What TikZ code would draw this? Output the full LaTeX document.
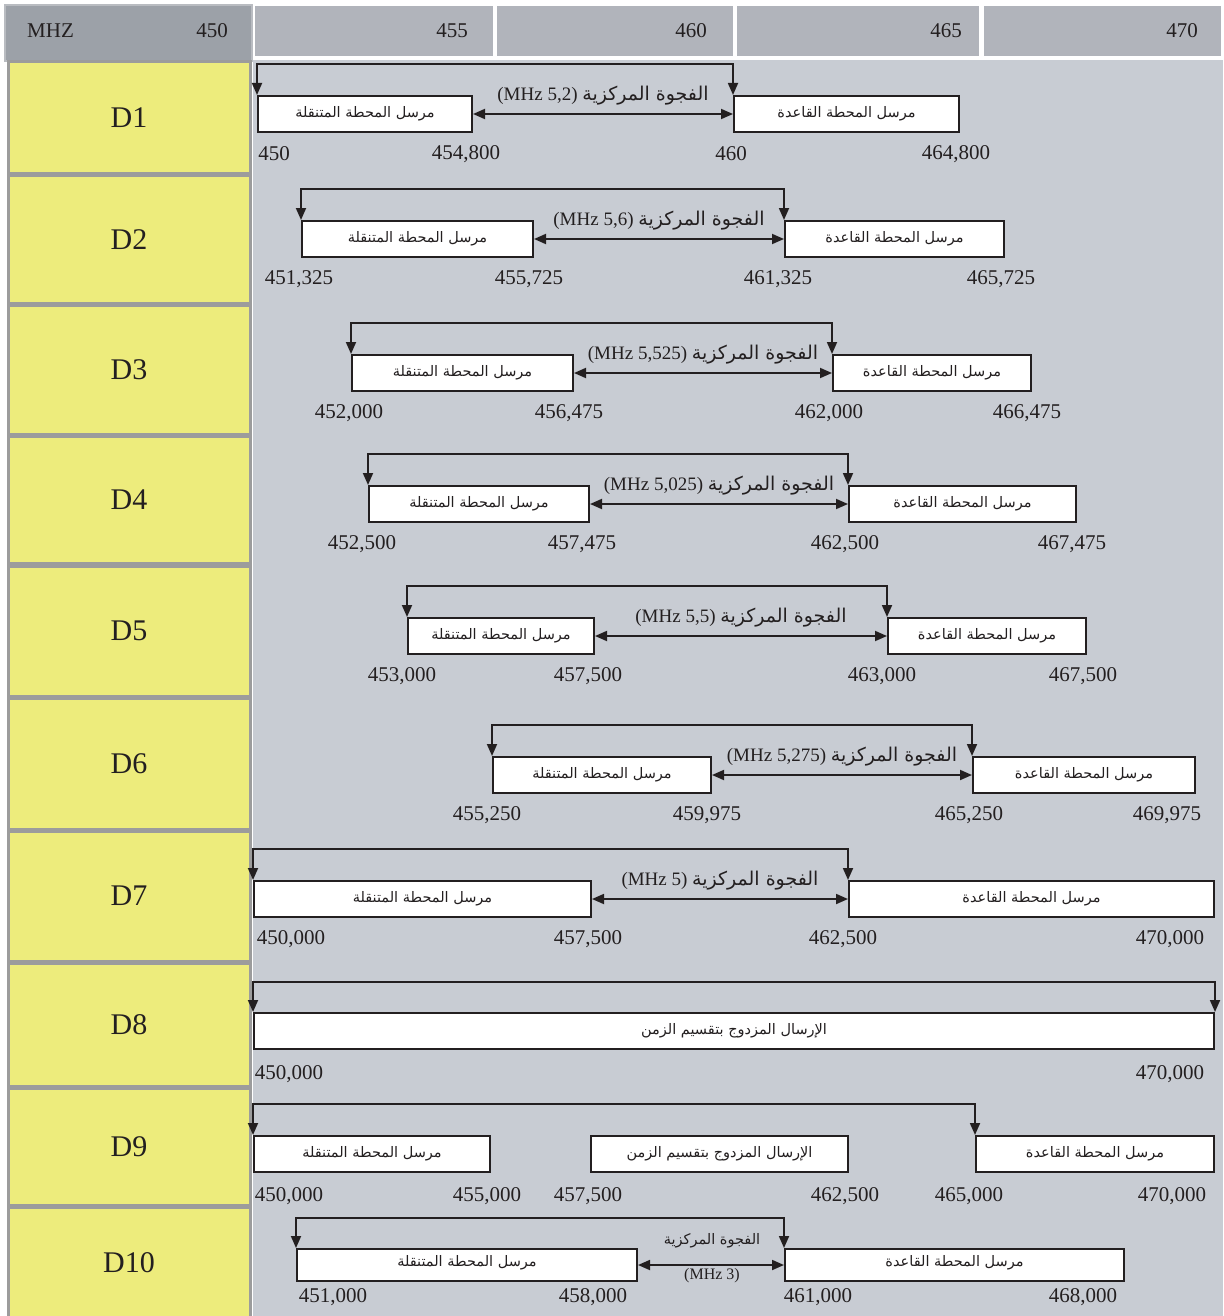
\documentclass[tikz,border=0pt]{standalone}
\usepackage{fontspec}
\setmainfont{Liberation Serif}
\newfontfamily\arabicfont[Script=Arabic]{DejaVu Sans}
\TeXXeTstate=1
\usetikzlibrary{arrows.meta}

\definecolor{ink}{HTML}{231F20}
\definecolor{yel}{HTML}{EDEC7C}
\definecolor{ygray}{HTML}{9C9C9C}
\definecolor{hdark}{HTML}{9CA1A8}
\definecolor{hedge}{HTML}{B9BCC1}
\definecolor{hlight}{HTML}{B1B4BB}
\definecolor{panel}{HTML}{C8CCD3}

\newcommand\mobtext{\beginR مرسل المحطة المتنقلة\endR}
\newcommand\basetext{\beginR مرسل المحطة القاعدة\endR}
\newcommand\tddtext{\beginR الإرسال المزدوج بتقسيم الزمن\endR}
\newcommand\gaptext[1]{(MHz #1) {\arabicfont\beginR الفجوة المركزية\endR}}

\begin{document}
\begin{tikzpicture}[x=1pt,y=-1pt,
  txbox/.style={draw=ink,line width=2pt,fill=white,anchor=north west,
    minimum height=36pt,inner sep=0pt,text=ink,
    font=\arabicfont\fontsize{14.5}{16}\selectfont},
  link/.style={draw=ink,line width=1.8pt,
    {Triangle[length=12pt,width=10pt]}-{Triangle[length=12pt,width=10pt]}},
  freq/.style={text=ink,inner sep=0pt,font=\fontsize{21}{23}\selectfont},
  gaplbl/.style={text=ink,inner sep=0pt,yshift=18pt,font=\fontsize{19}{21}\selectfont},
  dlbl/.style={text=ink,font=\fontsize{30}{32}\selectfont},
  ycell/.style={fill=yel,draw=ygray,line width=3pt}]
  \useasboundingbox (0,0) rectangle (1223,1316);

  % header strip
  \draw[fill=hdark,draw=hedge,line width=2pt] (5,5) rectangle (252,61);
  \foreach \xl/\xr in {255/493,497/733,737/979,984/1221}
    \fill[hlight] (\xl,6) rectangle (\xr,56);
  \node[freq,anchor=west] (mhz) at (27,31) {MHZ};
  \foreach \f/\x in {450/228,455/468,460/707,465/962,470/1198}
    \node[freq,anchor=east] (h\f) at (\x,31) {\f};

  % band column and chart area
  \fill[panel] (253,60) rectangle (1223,1316);
  \foreach \n/\yt/\ybot in {1/62/174,2/176/303,3/305/434,4/436/563,5/566/696,
      6/698/829,7/831/961,8/963/1086,9/1088/1205,10/1207/1318}{
    \draw[ycell] (8,\yt) rectangle (250,\ybot);
    \node[dlbl] (d\n) at (129,{(\yt+\ybot)/2}) {D\n};
  }

  % FDD bands D1--D7
  \foreach \n/\yb/\ml/\mr/\bl/\br/\gap/\na/\xa/\nb/\xb/\nc/\xc/\nd/\xd in {
      1/95/257/471/733/958/{5,2}/450/274/{454,800}/466/460/731/{464,800}/956,
      2/220/301/532/784/1003/{5,6}/{451,325}/299/{455,725}/529/{461,325}/778/{465,725}/1001,
      3/354/351/572/832/1030/{5,525}/{452,000}/349/{456,475}/569/{462,000}/829/{466,475}/1027,
      4/485/368/588/848/1075/{5,025}/{452,500}/362/{457,475}/582/{462,500}/845/{467,475}/1072,
      5/617/407/593/887/1085/{5,5}/{453,000}/402/{457,500}/588/{463,000}/882/{467,500}/1083,
      6/756/492/710/972/1194/{5,275}/{455,250}/487/{459,975}/707/{465,250}/969/{469,975}/1167,
      7/880/253/590/848/1213/5/{450,000}/291/{457,500}/588/{462,500}/843/{470,000}/1170}{
    \node[txbox,minimum width={(\mr-\ml)*1pt}] (m\n) at (\ml,\yb) {\mobtext};
    \node[txbox,minimum width={(\br-\bl)*1pt}] (b\n) at (\bl,\yb) {\basetext};
    \draw[link] (m\n.north west) -- ++(0,-31) -| (b\n.north west);
    \draw[link] (m\n.east) -- node[gaplbl] (g\n) {\gaptext{\gap}} (b\n.west);
    \node[freq] (fa\n) at (\xa,\yb+59) {\na};
    \node[freq] (fb\n) at (\xb,\yb+59) {\nb};
    \node[freq] (fc\n) at (\xc,\yb+59) {\nc};
    \node[freq] (fd\n) at (\xd,\yb+59) {\nd};
  }

  % TDD band D8
  \node[txbox,minimum width=960pt] (t8) at (253,1012) {\tddtext};
  \draw[link] (t8.north west) -- ++(0,-30) -| (t8.north east);
  \node[freq] (fa8) at (289,1074) {450,000};
  \node[freq] (fd8) at (1170,1074) {470,000};

  % mixed band D9
  \node[txbox,minimum width=236pt] (m9) at (253,1135) {\mobtext};
  \node[txbox,minimum width=257pt] (t9) at (590,1135) {\tddtext};
  \node[txbox,minimum width=238pt] (b9) at (975,1135) {\basetext};
  \draw[link] (m9.north west) -- ++(0,-31) -| (b9.north west);
  \foreach \v/\x [count=\i] in {{450,000}/289,{455,000}/487,{457,500}/588,
      {462,500}/845,{465,000}/969,{470,000}/1172}
    \node[freq] (f9\i) at (\x,1196) {\v};

  % FDD band D10
  \node[txbox,minimum width=340pt,minimum height=32pt,text depth=8pt] (m10) at (296,1248) {\mobtext};
  \node[txbox,minimum width=339pt,minimum height=32pt,text depth=8pt] (b10) at (784,1248) {\basetext};
  \draw[link] (m10.north west) -- ++(0,-30) -| (b10.north west);
  \draw[link] (m10.east) -- (b10.west);
  \node[text=ink,font=\arabicfont\fontsize{14.5}{16}\selectfont] (g10) at (712,1241)
    {\beginR الفجوة المركزية\endR};
  \node[text=ink,font=\fontsize{16}{18}\selectfont] (u10) at (712,1276) {(MHz 3)};
  \foreach \v/\x [count=\i] in {{451,000}/333,{458,000}/593,{461,000}/818,{468,000}/1083}
    \node[freq] (f10\i) at (\x,1297) {\v};
\end{tikzpicture}
\end{document}
